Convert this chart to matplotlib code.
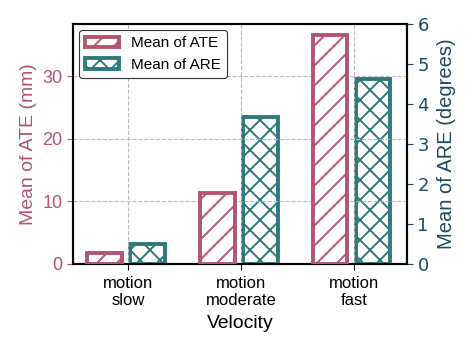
import matplotlib
matplotlib.use("Agg")
import matplotlib.pyplot as plt
import numpy as np

categories = ["motion\nslow", "motion\nmoderate", "motion\nfast"]
ate_values = [1.8, 11.4, 36.6]
are_values = [0.49, 3.67, 4.62]

c_ate = "#b0566f"
c_are = "#2e7a7a"
c_are_lab = "#1d4a63"

DPI = 120
S = 100 / DPI  # keep visual sizes equal to a 100-dpi layout

plt.rcParams['font.family'] = ['Liberation Sans', 'DejaVu Sans']
plt.rcParams['hatch.linewidth'] = 1.4 * S

fig = plt.figure(figsize=(472 / DPI, 354 / DPI), dpi=DPI)
ax = fig.add_axes([73/472, 1-264/354, (407-73)/472, (264-24)/354])
ax2 = ax.twinx()

x = np.arange(len(categories))
w = 0.305
b1 = ax.bar(x - 0.21, ate_values, w, facecolor="white", edgecolor=c_ate, hatch="//",
            linewidth=2.8 * S, label="Mean of ATE", zorder=3)
b2 = ax2.bar(x + 0.17, are_values, w, facecolor="white", edgecolor=c_are, hatch="xx",
             linewidth=2.8 * S, label="Mean of ARE", zorder=3)

ax.set_xlim(-0.49, 2.47)
ax.set_ylim(0, 38.3)
ax2.set_ylim(0, 6)
ax.set_yticks([0, 10, 20, 30])
ax2.set_yticks([0, 1, 2, 3, 4, 5, 6])
ax.set_xticks(x)
ax.set_xticklabels(categories, fontsize=12 * S, linespacing=1.15)

ax.grid(True, linestyle=(0, (3.7, 1.6)), color="#bbbbbb", linewidth=0.8 * S, zorder=0)
ax.set_axisbelow(True)

ax.tick_params(axis="y", colors=c_ate, labelsize=13 * S, length=4 * S, width=0.8 * S, pad=3.5 * S)
ax.tick_params(axis="x", length=4 * S, width=0.8 * S, pad=5 * S)
ax2.tick_params(axis="y", colors=c_are_lab, labelsize=13 * S, length=4 * S, width=0.8 * S, pad=3.5 * S)
for t in ax2.get_yticklabels():
    t.set_family("DejaVu Sans")
ax.set_ylabel("Mean of ATE (mm)", color=c_ate, fontsize=14 * S, labelpad=4 * S)
ax2.set_ylabel("Mean of ARE (degrees)", color=c_are_lab, fontsize=14.5 * S, labelpad=6 * S)
ax.set_xlabel("Velocity", fontsize=14 * S, labelpad=5 * S)

for sp in ax.spines.values():
    sp.set_linewidth(1.5 * S)
for sp in ax2.spines.values():
    sp.set_linewidth(1.5 * S)

leg = ax.legend([b1, b2], ["Mean of ATE", "Mean of ARE"], loc="upper left", fontsize=11 * S,
                fancybox=True, edgecolor="#333333", framealpha=1, handlelength=2.2,
                borderaxespad=0.4)
leg.get_frame().set_linewidth(0.8 * S)
ax.set_zorder(ax2.get_zorder() + 1)
ax.patch.set_visible(False)

fig.savefig("out.png", dpi=DPI)
